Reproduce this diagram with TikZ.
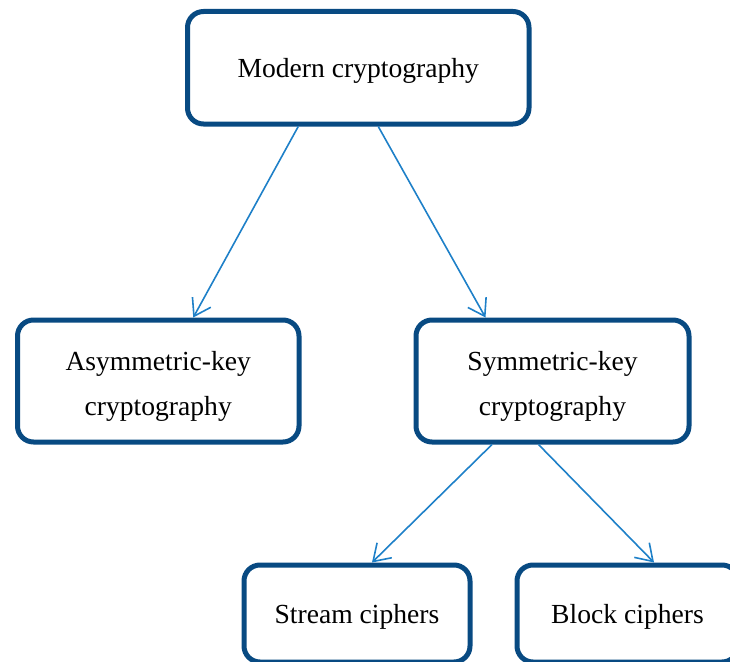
\documentclass[tikz,border=0pt]{standalone}
\usepackage{fontspec}
\setmainfont{Liberation Serif}
\usetikzlibrary{arrows.meta}

\definecolor{boxblue}{RGB}{8,74,130}
\definecolor{linkblue}{RGB}{30,128,200}

\tikzset{
  box/.style={draw=boxblue, line width=5pt, rounded corners=16pt, fill=white,
    font=\fontsize{27.6}{45}\selectfont, align=center, inner sep=0pt},
  oneline/.style={box, text height=19pt, text depth=0pt},
  twoline/.style={box, text height=68pt, text depth=0pt},
  link/.style={draw=linkblue, line width=1.6pt,
    -{Straight Barb[length=16pt, width=21pt]}}
}

\begin{document}
\begin{tikzpicture}[x=1pt, y=-1pt]
  \useasboundingbox (0,0) rectangle (730,661);
  \clip (0,0) rectangle (730,661);

  \node[oneline, minimum width=341.5pt, minimum height=112.5pt] (modern) at (358.25,67.75) {Modern cryptography};
  \node[twoline, minimum width=281.5pt, minimum height=122pt] (asym) at (158.25,381) {Asymmetric-key\\cryptography};
  \node[twoline, minimum width=273pt, minimum height=122pt] (sym) at (552.5,381) {Symmetric-key\\cryptography};
  \node[oneline, minimum width=226pt, minimum height=97pt] (stream) at (357,613.5) {Stream ciphers};
  \node[oneline, minimum width=221pt, minimum height=97pt] (block) at (627.5,613.5) {Block ciphers};

  \draw[link] ([xshift=-60pt]modern.south) -- ([xshift=35pt]asym.north);
  \draw[link] ([xshift=20pt]modern.south) -- ([xshift=-67pt]sym.north);
  \draw[link] ([xshift=-60.5pt]sym.south) -- ([xshift=15pt]stream.north);
  \draw[link] ([xshift=-14pt]sym.south) -- ([xshift=26.5pt]block.north);
\end{tikzpicture}
\end{document}
